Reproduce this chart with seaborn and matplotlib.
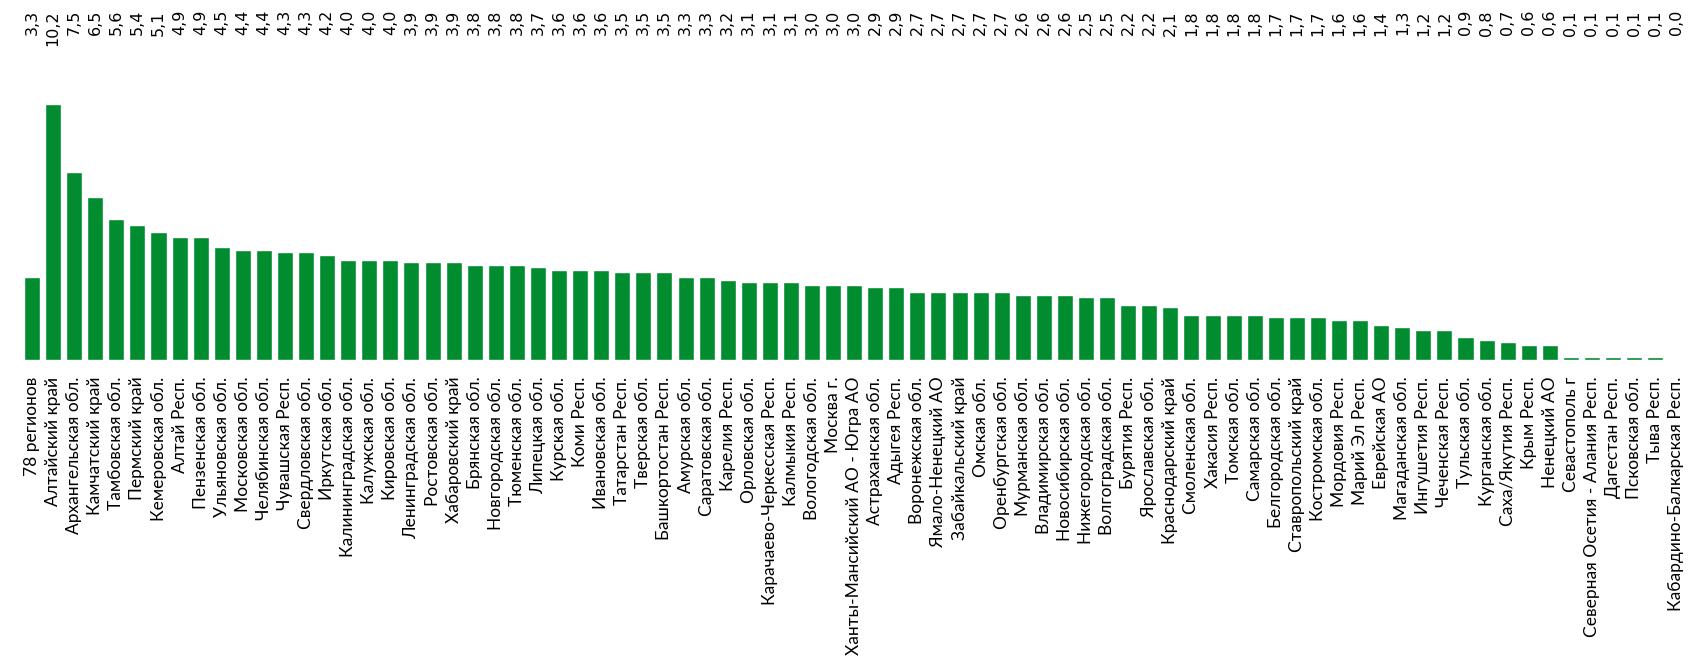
import matplotlib
matplotlib.use("Agg")
import matplotlib.pyplot as plt
import matplotlib.transforms as mtransforms
import seaborn as sns

regions = [
    "78 регионов", "Алтайский край", "Архангельская обл.", "Камчатский край",
    "Тамбовская обл.", "Пермский край", "Кемеровская обл.", "Алтай Респ.",
    "Пензенская обл.", "Ульяновская обл.", "Московская обл.", "Челябинская обл.",
    "Чувашская Респ.", "Свердловская обл.", "Иркутская обл.", "Калининградская обл.",
    "Калужская обл.", "Кировская обл.", "Ленинградская обл.", "Ростовская обл.",
    "Хабаровский край", "Брянская обл.", "Новгородская обл.", "Тюменская обл.",
    "Липецкая обл.", "Курская обл.", "Коми Респ.", "Ивановская обл.",
    "Татарстан Респ.", "Тверская обл.", "Башкортостан Респ.", "Амурская обл.",
    "Саратовская обл.", "Карелия Респ.", "Орловская обл.", "Карачаево-Черкесская Респ.",
    "Калмыкия Респ.", "Вологодская обл.", "Москва г.", "Ханты-Мансийский АО - Югра АО",
    "Астраханская обл.", "Адыгея Респ.", "Воронежская обл.", "Ямало-Ненецкий АО",
    "Забайкальский край", "Омская обл.", "Оренбургская обл.", "Мурманская обл.",
    "Владимирская обл.", "Новосибирская обл.", "Нижегородская обл.", "Волгоградская обл.",
    "Бурятия Респ.", "Ярославская обл.", "Краснодарский край", "Смоленская обл.",
    "Хакасия Респ.", "Томская обл.", "Самарская обл.", "Белгородская обл.",
    "Ставропольский край", "Костромская обл.", "Мордовия Респ.", "Марий Эл Респ.",
    "Еврейская АО", "Магаданская обл.", "Ингушетия Респ.", "Чеченская Респ.",
    "Тульская обл.", "Курганская обл.", "Саха/Якутия Респ.", "Крым Респ.",
    "Ненецкий АО", "Севастополь г", "Северная Осетия - Алания Респ.", "Дагестан Респ.",
    "Псковская обл.", "Тыва Респ.", "Кабардино-Балкарская Респ.",
]

values = [
    3.3, 10.2, 7.5, 6.5, 5.6, 5.4, 5.1, 4.9, 4.9, 4.5, 4.4, 4.4, 4.3, 4.3, 4.2,
    4.0, 4.0, 4.0, 3.9, 3.9, 3.9, 3.8, 3.8, 3.8, 3.7, 3.6, 3.6, 3.6, 3.5, 3.5,
    3.5, 3.3, 3.3, 3.2, 3.1, 3.1, 3.1, 3.0, 3.0, 3.0, 2.9, 2.9, 2.7, 2.7, 2.7,
    2.7, 2.7, 2.6, 2.6, 2.6, 2.5, 2.5, 2.2, 2.2, 2.1, 1.8, 1.8, 1.8, 1.8, 1.7,
    1.7, 1.7, 1.6, 1.6, 1.4, 1.3, 1.2, 1.2, 0.9, 0.8, 0.7, 0.6, 0.6, 0.1, 0.1,
    0.1, 0.1, 0.1, 0.04,
]

value_labels = [f"{v:.1f}".replace(".", ",") for v in values]

BAR_COLOR = "#008c2f"

sns.set_theme(style="white")
plt.rcParams["font.family"] = ["Lato", "DejaVu Sans"]

W, H = 1698, 670
fig = plt.figure(figsize=(W / 100, H / 100), dpi=100)
ax = fig.add_axes([16 / W, 1 - 360 / H, (1690 - 16) / W, (360 - 10) / H])

sns.barplot(x=regions, y=values, color=BAR_COLOR, saturation=1, width=0.76, ax=ax)

ax.set_xlim(-0.76, 78.65)
ax.set_ylim(0, 13.95)
ax.set_xlabel("")
ax.set_ylabel("")
ax.set_yticks([])
for s in ax.spines.values():
    s.set_visible(False)

ax.tick_params(axis="x", length=0, pad=12)
ax.set_xticks(range(len(regions)))
ax.set_xticklabels(regions, rotation=90, ha="center", va="top",
                   fontsize=12.5, color="black")

trans = mtransforms.blended_transform_factory(ax.transData, ax.transAxes)
for i, lab in enumerate(value_labels):
    ax.text(i, 1.0, lab, rotation=90, ha="center", va="top",
            fontsize=11.5, color="black", family=["DejaVu Sans"], transform=trans)

fig.savefig("out.png", dpi=100, facecolor="white")
